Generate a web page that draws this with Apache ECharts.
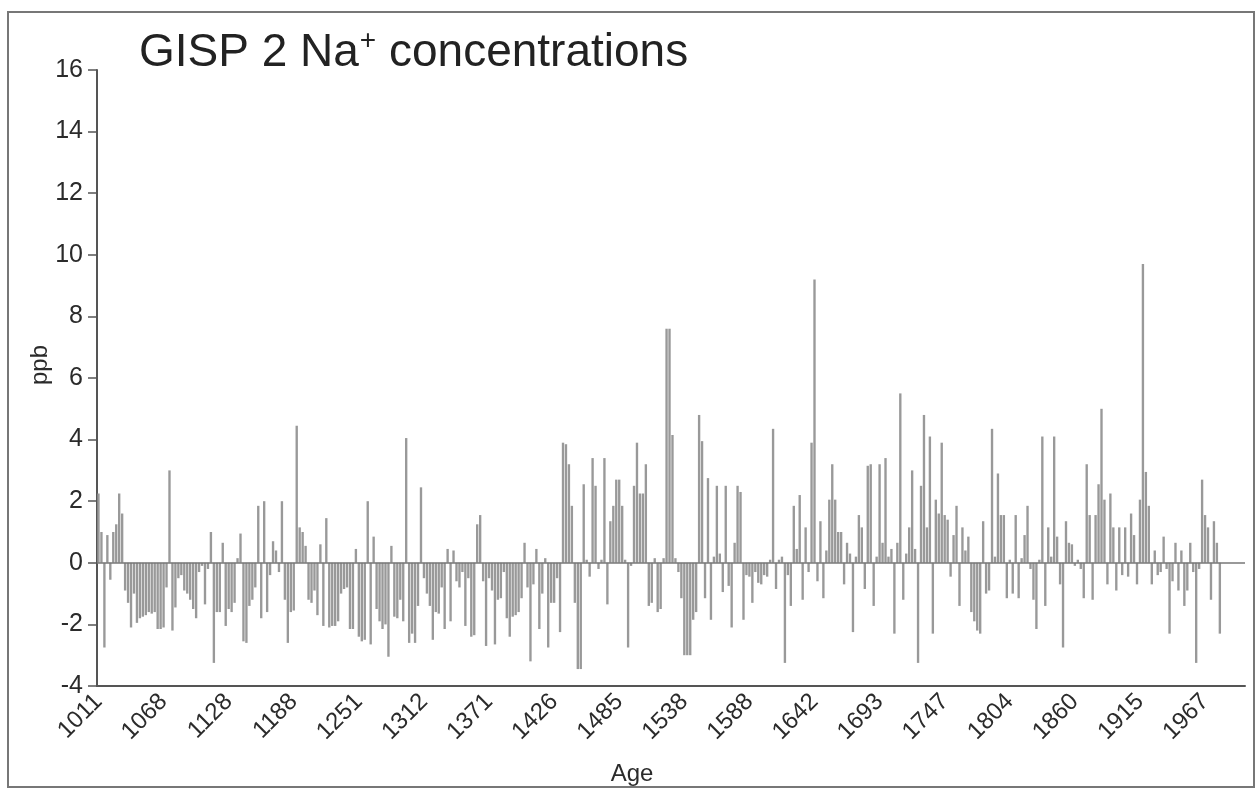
<!DOCTYPE html>
<html>
<head>
<meta charset="utf-8">
<script src="https://cdn.jsdelivr.net/npm/echarts@6/dist/echarts.min.js"></script>
<style>
html,body{margin:0;padding:0;background:#fff;}
#chart{width:1260px;height:792px;}
</style>
</head>
<body>
<div id="chart"></div>
<script>
// Age tick labels (every 22nd sample)
const ageTicks = [1011,1068,1128,1188,1251,1312,1371,1426,1485,1538,1588,1642,1693,1747,1804,1860,1915,1967];
const samplesPerTick = 22;
const trailingEmpty = 8;

// GISP2 Na+ anomaly (ppb), oldest first
const naPpb = [
 2.25,1.0,-2.75,0.9,-0.55,1.0,1.25,2.25,1.6,-0.9,-1.3,-2.1,-1.0,-1.95,-1.8,-1.75,-1.7,-1.6,-1.65,-1.6,
 -2.15,-2.15,-2.1,-0.8,3.0,-2.2,-1.45,-0.5,-0.4,-0.9,-1.0,-1.2,-1.5,-1.8,-0.3,-0.1,-1.35,-0.2,1.0,-3.25,
 -1.6,-1.6,0.65,-2.05,-1.5,-1.6,-1.3,0.15,0.95,-2.55,-2.6,-1.4,-1.2,-0.8,1.85,-1.8,2.0,-1.6,-0.4,0.7,
 0.4,-0.3,2.0,-1.2,-2.6,-1.6,-1.55,4.45,1.15,1.0,0.55,-1.2,-1.3,-0.9,-1.7,0.6,-2.05,1.45,-2.1,-2.05,
 -2.05,-1.9,-1.0,-0.85,-0.8,-2.15,-2.15,0.45,-2.4,-2.55,-2.5,2.0,-2.65,0.85,-1.5,-1.9,-2.15,-2.0,-3.05,0.55,
 -1.75,-1.8,-1.2,-1.9,4.05,-2.6,-2.3,-2.6,-1.4,2.45,-0.5,-1.0,-1.4,-2.5,-1.6,-1.65,-0.8,-2.15,0.45,-1.9,
 0.4,-0.6,-0.8,-0.3,-2.05,-0.5,-2.4,-2.35,1.25,1.55,-0.6,-2.7,-0.5,-0.9,-2.65,-1.2,-1.15,-0.3,-1.8,-2.4,
 -1.75,-1.7,-1.6,-1.15,0.65,-0.8,-3.2,-0.7,0.45,-2.15,-1.0,0.15,-2.75,-1.3,-1.3,-0.5,-2.25,3.9,3.85,3.2,
 1.85,-1.3,-3.45,-3.45,2.55,0.1,-0.45,3.4,2.5,-0.2,0.1,3.4,-1.35,1.35,1.85,2.7,2.7,1.85,0.1,-2.75,
 -0.1,2.5,3.9,2.25,2.25,3.2,-1.4,-1.3,0.15,-1.6,-1.5,0.15,7.6,7.6,4.15,0.15,-0.3,-1.15,-3.0,-3.0,
 -3.0,-1.85,-1.6,4.8,3.95,-1.15,2.75,-1.85,0.2,2.5,0.3,-0.95,2.5,-0.75,-2.1,0.65,2.5,2.3,-1.85,-0.4,
 -0.45,-1.3,-0.3,-0.65,-0.7,-0.4,-0.45,0.1,4.35,-0.85,0.1,0.2,-3.25,-0.4,-1.4,1.85,0.45,2.2,-1.2,1.15,
 -0.3,3.9,9.2,-0.6,1.35,-1.15,0.4,2.05,3.2,2.05,1.0,1.0,-0.7,0.65,0.3,-2.25,0.2,1.55,1.15,-0.85,
 3.15,3.2,-1.4,0.2,3.2,0.65,3.4,0.2,0.45,-2.3,0.65,5.5,-1.2,0.3,1.15,3.0,0.45,-3.25,2.5,4.8,
 1.15,4.1,-2.3,2.05,1.6,3.9,1.55,1.4,-0.45,0.9,1.85,-1.4,1.15,0.4,0.85,-1.6,-1.9,-2.2,-2.3,1.35,
 -1.0,-0.9,4.35,0.2,2.9,1.55,1.55,-1.15,0.1,-1.0,1.55,-1.15,0.15,0.9,1.85,-0.2,-1.2,-2.15,0.1,4.1,
 -1.4,1.15,0.2,4.1,0.85,-0.7,-2.75,1.35,0.65,0.6,-0.1,0.1,-0.2,-1.15,3.2,1.55,-1.2,1.55,2.55,5.0,
 2.05,-0.7,2.25,1.15,-0.9,1.15,-0.4,1.15,-0.45,1.6,0.9,-0.7,2.05,9.7,2.95,1.85,-0.7,0.4,-0.4,-0.3,
 0.85,-0.2,-2.3,-0.6,0.65,-0.9,0.4,-1.4,-0.9,0.65,-0.3,-3.25,-0.2,2.7,1.55,1.15,-1.2,1.35,0.65,-2.3
];

const seriesData = naPpb.concat(new Array(trailingEmpty).fill(null));
const sampleIds = seriesData.map((_, i) => 'sample ' + i);

const chart = echarts.init(document.getElementById('chart'), null, {renderer: 'canvas'});
const txt = '#2b2b2b';
const ff = 'Liberation Sans, Arial, sans-serif';
chart.setOption({
  animation: false,
  backgroundColor: '#fff',
  title: {
    text: 'GISP 2 Na{sup|+} concentrations',
    left: 134, top: 22,
    textStyle: {
      fontFamily: ff, fontSize: 46, fontWeight: 'normal', color: '#222', lineHeight: 52,
      rich: { sup: { fontSize: 28, fontFamily: ff, color: '#222', verticalAlign: 'top', lineHeight: 52, padding: [0, 0, 0, 1] } }
    }
  },
  grid: { left: 97, right: 15, top: 70, bottom: 106, containLabel: false, outerBoundsMode: 'none' },
  xAxis: {
    type: 'category',
    data: sampleIds,
    boundaryGap: true,
    name: 'Age', nameLocation: 'middle', nameGap: 76, nameMoveOverlap: false,
    nameTextStyle: { fontFamily: ff, fontSize: 24, color: txt, padding: [0, 78, 0, 0] },
    axisLine: { onZero: false, lineStyle: { color: '#555', width: 2 } },
    axisTick: { show: false },
    axisLabel: {
      interval: samplesPerTick - 1, rotate: 45, margin: 12,
      fontFamily: ff, fontSize: 24, color: txt,
      formatter: (v, idx) => { const k = idx / samplesPerTick; return Number.isInteger(k) && k < ageTicks.length ? String(ageTicks[k]) : ''; }
    },
    splitLine: { show: false }
  },
  yAxis: {
    type: 'value', min: -4, max: 16, interval: 2,
    name: 'ppb', nameLocation: 'middle', nameGap: 45, nameMoveOverlap: false,
    nameTextStyle: { fontFamily: ff, fontSize: 24, color: txt, padding: [0, 0, 0, 26] },
    axisLine: { show: true, lineStyle: { color: '#555', width: 2 } },
    axisTick: { show: true, length: 9, lineStyle: { color: '#555', width: 1.5 } },
    axisLabel: { fontFamily: ff, fontSize: 25, color: txt, margin: 14 },
    splitLine: { show: false }
  },
  series: [{
    type: 'bar',
    data: seriesData,
    barCategoryGap: '20%',
    itemStyle: { color: '#999999' },
    markLine: {
      silent: true, symbol: 'none', label: { show: false },
      lineStyle: { color: '#777', type: 'solid', width: 1.5 },
      data: [{ yAxis: 0 }]
    }
  }],
  graphic: [{
    type: 'rect', silent: true,
    shape: { x: 8, y: 12, width: 1246, height: 775 },
    style: { fill: 'none', stroke: '#777', lineWidth: 2 }
  }]
});
</script>
</body>
</html>
